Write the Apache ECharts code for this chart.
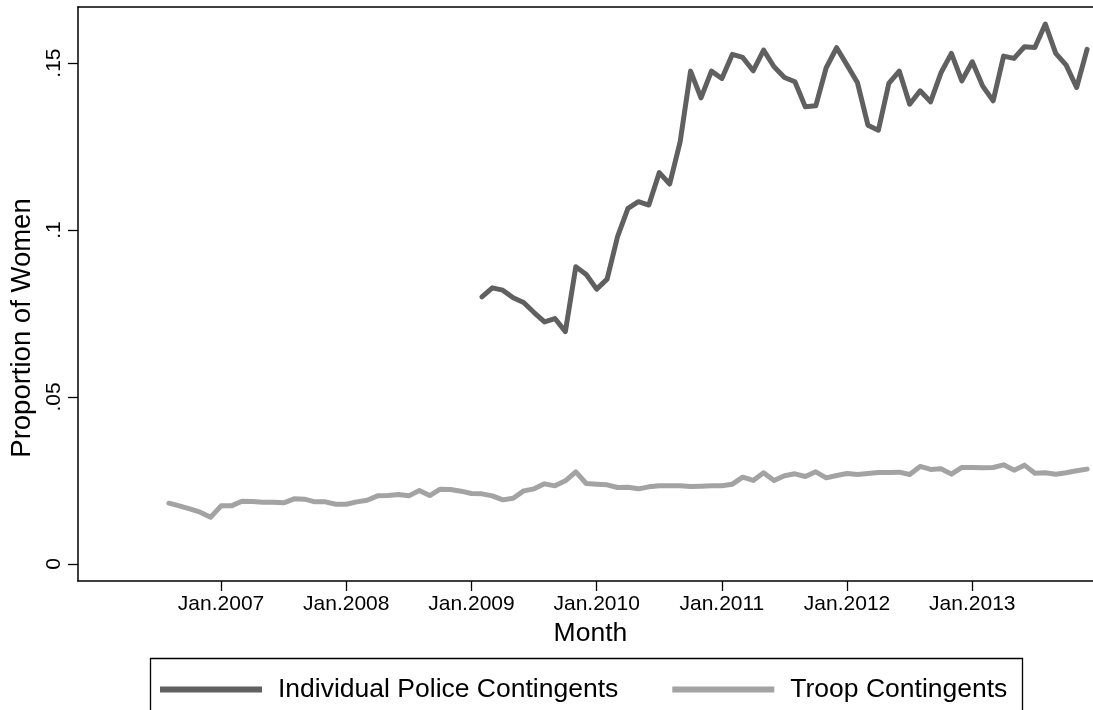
<!DOCTYPE html>
<html>
<head>
<meta charset="utf-8">
<title>Proportion of Women by Month</title>
<script src="https://cdn.jsdelivr.net/npm/echarts@6/dist/echarts.min.js"></script>
<style>
  html, body { margin: 0; padding: 0; background: #fff; }
  #chart { width: 1093px; height: 710px; }
</style>
</head>
<body>
<div id="chart"></div>
<script>
// Month index: 0 = Jan 2006, 12 = Jan 2007, ...
const troopStart = 7;   // Aug 2006
const policeStart = 37; // Feb 2009

// Troop contingents, monthly, Aug 2006 - Dec 2013
const troopValues = [
  0.0182, 0.0174, 0.0165, 0.0155, 0.0140,
  0.0174, 0.0174, 0.0188, 0.0187, 0.0185, 0.0185, 0.0183, 0.0195, 0.0194, 0.0186, 0.0186, 0.0179,
  0.0179, 0.0186, 0.0191, 0.0204, 0.0205, 0.0208, 0.0204, 0.0220, 0.0205, 0.0224, 0.0223, 0.0218,
  0.0211, 0.0210, 0.0204, 0.0192, 0.0197, 0.0219, 0.0225, 0.0240, 0.0234, 0.0249, 0.0276, 0.0241,
  0.0239, 0.0237, 0.0229, 0.0230, 0.0225, 0.0231, 0.0234, 0.0234, 0.0234, 0.0232, 0.0233, 0.0234,
  0.0234, 0.0239, 0.0260, 0.0250, 0.0273, 0.0250, 0.0264, 0.0270, 0.0262, 0.0276, 0.0258, 0.0265,
  0.0271, 0.0268, 0.0271, 0.0274, 0.0274, 0.0275, 0.0268, 0.0292, 0.0283, 0.0285, 0.0269, 0.0289,
  0.0289, 0.0288, 0.0289, 0.0297, 0.0281, 0.0296, 0.0272, 0.0273, 0.0269, 0.0273, 0.0279, 0.0284
];

// Individual police contingents, monthly, Feb 2009 - Dec 2013
const policeValues = [
  0.0800, 0.0827, 0.0820, 0.0797, 0.0783, 0.0753, 0.0725, 0.0735, 0.0696, 0.0890, 0.0867,
  0.0823, 0.0853, 0.0980, 0.1065, 0.1085, 0.1075, 0.1172, 0.1138, 0.1264, 0.1476, 0.1396, 0.1476,
  0.1454, 0.1526, 0.1517, 0.1477, 0.1539, 0.1489, 0.1457, 0.1444, 0.1369, 0.1372, 0.1486, 0.1546,
  0.1494, 0.1441, 0.1314, 0.1299, 0.1439, 0.1476, 0.1377, 0.1417, 0.1384, 0.1471, 0.1529, 0.1447,
  0.1504, 0.1431, 0.1387, 0.1521, 0.1514, 0.1549, 0.1547, 0.1617, 0.1529, 0.1494, 0.1427, 0.1541
];

// Axis ticks
const xTickMonths = [12, 24, 36, 48, 60, 72, 84];
const xTickLabels = ['Jan.2007', 'Jan.2008', 'Jan.2009', 'Jan.2010', 'Jan.2011', 'Jan.2012', 'Jan.2013'];
const yTickValues = [0, 0.05, 0.1, 0.15];
const yTickLabels = ['0', '.05', '.1', '.15'];

const seriesNames = ['Individual Police Contingents', 'Troop Contingents'];

const toPairs = (start, vals) => vals.map((v, i) => [start + i, v]);

const FONT = '"Liberation Sans", Arial, Helvetica, sans-serif';
const DARK = '#606060';
const LIGHT = '#a3a3a3';

const chart = echarts.init(document.getElementById('chart'), null, { renderer: 'canvas' });

chart.setOption({
  backgroundColor: '#fff',
  animation: false,
  textStyle: { fontFamily: FONT, color: '#000' },
  grid: { left: 77, top: 7, right: 0, bottom: 129, containLabel: false },
  xAxis: [{
    type: 'value',
    min: -1.72,
    max: 95.57,
    position: 'bottom',
    name: 'Month',
    nameLocation: 'middle',
    nameGap: 37,
    nameTextStyle: { fontSize: 26.5, color: '#000', fontFamily: FONT, padding: [0, 0, 0, 10] },
    axisLine: { show: true, onZero: false, lineStyle: { color: '#000', width: 1.5 } },
    axisTick: { show: true, length: 10, inside: false, customValues: xTickMonths, lineStyle: { color: '#000', width: 1.3 } },
    axisLabel: {
      show: true, margin: 13, fontSize: 21, color: '#000', fontFamily: FONT,
      customValues: xTickMonths,
      formatter: v => xTickLabels[xTickMonths.indexOf(Math.round(v))] || ''
    },
    splitLine: { show: false }
  }, {
    type: 'value',
    min: -1.72,
    max: 95.57,
    position: 'top',
    axisLine: { show: true, onZero: false, lineStyle: { color: '#000', width: 1.5 } },
    axisTick: { show: false },
    axisLabel: { show: false },
    splitLine: { show: false }
  }],
  yAxis: {
    type: 'value',
    min: -0.0051,
    max: 0.1668,
    name: 'Proportion of Women',
    nameLocation: 'middle',
    nameRotate: 90,
    nameGap: 40,
    nameTextStyle: { fontSize: 27.5, color: '#000', fontFamily: FONT, padding: [0, 68, 0, 0] },
    axisLine: { show: true, onZero: false, lineStyle: { color: '#000', width: 1.5 } },
    axisTick: { show: true, length: 10, customValues: yTickValues, lineStyle: { color: '#000', width: 1.3 } },
    axisLabel: {
      show: true, rotate: 90, margin: 13, fontSize: 21, color: '#000', fontFamily: FONT,
      customValues: yTickValues,
      formatter: v => {
        const i = yTickValues.findIndex(t => Math.abs(t - v) < 1e-9);
        return i >= 0 ? yTickLabels[i] : '';
      }
    },
    splitLine: { show: false }
  },
  legend: {
    show: true,
    left: 160,
    top: 676,
    orient: 'horizontal',
    icon: 'rect',
    itemWidth: 102,
    itemHeight: 6,
    itemGap: 54,
    padding: 0,
    textStyle: { fontSize: 26.5, color: '#000', fontFamily: FONT, padding: [0, 0, 0, 11] },
    data: seriesNames
  },
  graphic: [{
    type: 'rect',
    shape: { x: 150.5, y: 658.5, width: 872, height: 70 },
    style: { fill: 'none', stroke: '#000', lineWidth: 1.3 },
    silent: true,
    z: 1
  }],
  series: [{
    name: seriesNames[0],
    type: 'line',
    xAxisIndex: 0,
    data: toPairs(policeStart, policeValues),
    showSymbol: false,
    symbol: 'none',
    color: DARK,
    lineStyle: { color: DARK, width: 5, cap: 'round', join: 'round' },
    z: 3
  }, {
    name: seriesNames[1],
    type: 'line',
    xAxisIndex: 0,
    data: toPairs(troopStart, troopValues),
    showSymbol: false,
    symbol: 'none',
    color: LIGHT,
    lineStyle: { color: LIGHT, width: 5, cap: 'round', join: 'round' },
    z: 2
  }]
});
</script>
</body>
</html>
